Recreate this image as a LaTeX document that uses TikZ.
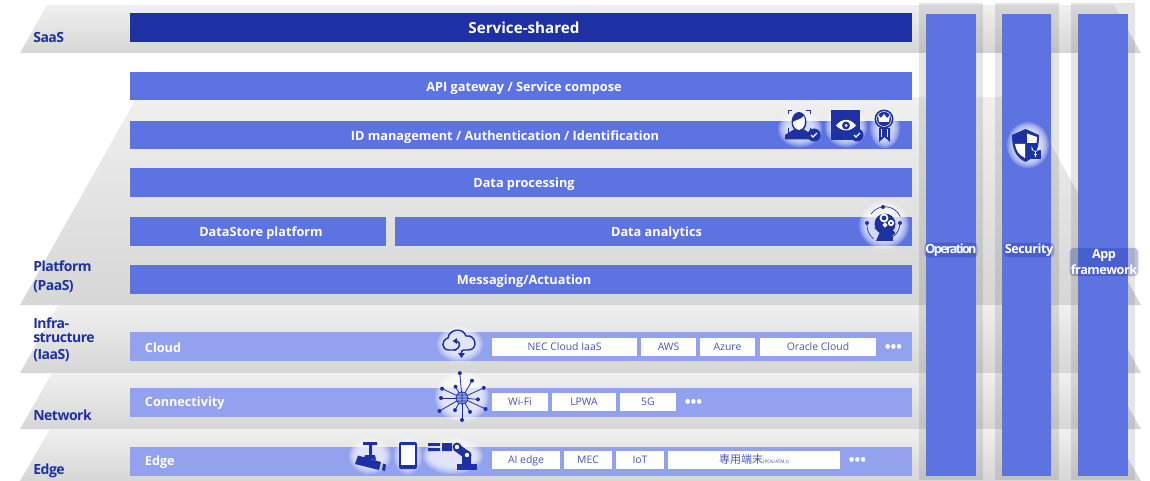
\documentclass[tikz,border=0pt]{standalone}
\usepackage{fontspec}
\setmainfont{Open Sans}
\newfontfamily\tightfont[LetterSpace=-3.5]{Open Sans}
\newfontfamily\tighterfont[LetterSpace=-13]{Open Sans}
\newfontfamily\cjkfont{Noto Sans CJK JP}
\usetikzlibrary{arrows,positioning}
\definecolor{barBlue}{HTML}{5E73E2}
\definecolor{rowBlue}{HTML}{93A2EE}
\definecolor{navy}{HTML}{1E31A4}
\definecolor{chipText}{HTML}{4557B8}
\newcommand{\layerBand}[3]{
	\shade[band] (#3,#1) -- (1161-#3,#1) -- (1141,#2) -- (20,#2) -- cycle;
}
\newcommand{\iconGlow}[4]{
	\foreach \grow in {0,1.5,3,4.5,6,7.5}
		\fill[glow] (#1,#2) ellipse [x radius=#3-\grow,y radius=#4-\grow];
}
\newcommand{\checkBadge}[2]{
	\fill[navy] (#1,#2) circle [radius=6.5];
	\draw[white,line width=1pt] (#1-3,#2) -- (#1-1,#2+2) -- (#1+3,#2-2);
}
\begin{document}
\begin{tikzpicture}
		[
			x=0.75pt,y=-0.75pt,
			font={\bfseries},
			band/.style={top color=black!6,bottom color=black!16},
			column/.style={fill=black,fill opacity=0.1},
			bluebar/.style={fill=barBlue,text=white,inner sep=0,outer sep=0,anchor=north west,minimum height=21.5pt,text height=7.6pt,text depth=0pt,font={\bfseries\fontsize{9.55}{12}\selectfont}},
			rowbar/.style={fill=rowBlue,inner sep=0,outer sep=0,anchor=north west,minimum width=586.5pt,minimum height=21.5pt},
			rowlabel/.style={text=white,inner sep=0,yshift=-0.75pt,font={\bfseries\fontsize{9.5}{12}\selectfont}},
			chip/.style={fill=white,text=chipText,inner sep=0,outer sep=0,minimum height=13.5pt,text height=5.8pt,text depth=0pt,node distance=3pt,font={\fontsize{7.8}{10}\selectfont}},
			dots/.style={text=white,inner sep=0,node distance=6.5pt,yshift=-1.1pt,font={\bfseries\fontsize{11.5}{12}\selectfont}},
			layername/.style={text=navy,anchor=west,inner sep=0,align=left,font={\tightfont\bfseries\fontsize{10.5}{10.5}\selectfont}},
			halo/.style={fill=navy,fill opacity=0.3,text opacity=1,text=white,rounded corners=3pt,inner sep=0.8pt,align=center,font={\tightfont\bfseries\fontsize{9.5}{12.5}\selectfont}},
			glow/.style={white,opacity=0.2},
			icon/.style={draw=navy,line width=1.1pt},
			link/.style={navy,line width=0.6pt},
		]
		\useasboundingbox (0,0) rectangle (1150,481);
		% layers behind everything
		\layerBand{5}{53}{47}
		\layerBand{97}{305}{137}
		\layerBand{305}{373}{58}
		\layerBand{373}{429}{52}
		\layerBand{429}{481}{50}
		\fill[column] (919,3) rectangle (983,480);
		\fill[column] (995,3) rectangle (1059,480);
		\fill[column] (1071,3) rectangle (1135,480);
		\node[layername] (saas) at (33,38) {SaaS};
		\node[layername] (platform) at (33,276.5) {Platform\\[3.75pt](PaaS)};
		\node[layername] (infra) at (33,339.5) {Infra-\\structure\\[2.25pt](IaaS)};
		\node[layername] (network) at (33,415) {Network};
		\node[layername] (edge) at (33,471) {Edge};
		% platform bars
		\node[bluebar,fill=navy,minimum width=586.5pt,text height=9.4pt,font={\bfseries\fontsize{11.4}{14}\selectfont}] (shared) at (130,13) {\hspace*{4.5pt}Service-shared};
		\node[bluebar,minimum width=586.5pt,minimum height=21pt] (gateway) at (130,72) {\hspace*{4.5pt}API gateway / Service compose};
		\node[bluebar,minimum width=586.5pt,minimum height=21pt] (idm) at (130,121) {ID management / Authentication / Identification\hspace*{24pt}};
		\node[bluebar,minimum width=586.5pt] (processing) at (130,168) {\hspace*{4.5pt}Data processing};
		\node[bluebar,minimum width=192pt] (datastore) at (130,217) {\hspace*{4.5pt}DataStore platform};
		\node[bluebar,minimum width=387.75pt] (analytics) at (395,217) {\hspace*{4.5pt}Data analytics};
		\node[bluebar,minimum width=586.5pt] (messaging) at (130,265) {\hspace*{4.5pt}Messaging/Actuation};
		% cloud row
		\node[rowbar] (cloudbar) at (130,332) {};
		\node[rowlabel,right=11pt of cloudbar.west] (cloudname) {Cloud};
		\node[chip,anchor=north west,minimum width=108.75pt] (nec) at (492,338) {NEC Cloud IaaS};
		\node[chip,right=of nec,minimum width=41.25pt] (aws) {AWS};
		\node[chip,right=of aws,minimum width=41.25pt] (azure) {Azure};
		\node[chip,right=3.75pt of azure,minimum width=87pt] (oracle) {Oracle Cloud};
		\node[dots,right=of oracle] (clouddots) {•••};
		% connectivity row
		\node[rowbar] (connbar) at (130,388) {};
		\node[rowlabel,right=11pt of connbar.west] (connname) {Connectivity};
		\node[chip,anchor=north west,minimum width=42pt] (wifi) at (492,393) {Wi-Fi};
		\node[chip,right=of wifi,minimum width=48pt] (lpwa) {LPWA};
		\node[chip,right=of lpwa,minimum width=42pt] (fiveg) {5G};
		\node[dots,right=of fiveg] (conndots) {•••};
		% edge row
		\node[rowbar] (edgebar) at (130,447) {};
		\node[rowlabel,right=11pt of edgebar.west] (edgename) {Edge};
		\node[chip,anchor=north west,minimum width=51pt] (aiedge) at (492,451) {AI edge};
		\node[chip,right=of aiedge,minimum width=36pt] (mec) {MEC};
		\node[chip,right=of mec,minimum width=36pt] (iot) {IoT};
		\node[chip,right=of iot,minimum width=129pt] (terminal) {{\cjkfont\fontsize{8.25}{10}\selectfont 専用端末}{\fontsize{3.5}{4}\selectfont (POS/ATM,t)}};
		\node[dots,right=of terminal] (edgedots) {•••};
		% columns
		\node[bluebar,minimum width=37.5pt,minimum height=346.5pt] (operationbar) at (926,14) {};
		\node[bluebar,minimum width=36.75pt,minimum height=346.5pt] (securitybar) at (1002,14) {};
		\node[bluebar,minimum width=37.5pt,minimum height=346.5pt] (appbar) at (1078,14) {};
		\node[halo,font={\tighterfont\bfseries\fontsize{9.5}{12.5}\selectfont}] (operation) at (951,250) {Operation};
		\node[halo] (security) at (1029,250) {Security};
		\node[halo] (app) at (1104,262) {App\\framework};
		% cloud icon
		\iconGlow{460}{344}{23}{18}
		\draw[icon,line cap=round] (456,350) -- (449,350) .. controls (441,350) and (441,340) .. (448,338) .. controls (449,329) and (463,327) .. (466,336) .. controls (476,334) and (479,350) .. (468,350) -- (464,350) .. controls (462,350) and (461,351) .. (461,354);
		\fill[navy] (458,353) -- (465,353) -- (461.5,358) -- cycle;
		\draw[icon,line cap=round] (454,350) .. controls (461,349) and (461,341) .. (456,341);
		\fill[navy] (457,338) -- (457,344) -- (452.5,341) -- cycle;
		% network icon
		\iconGlow{462}{397}{27}{25}
		\foreach \a/\r in {-155/22,-120/13,-95/25,-60/20,-25/24,5/16,25/26,60/16,90/22,120/14,150/26,180/21}{
			\draw[link] (462,398) -- ++(\a:\r);
			\fill[navy] (462,398) ++(\a:\r) circle [radius=2];
		}
		\fill[rowBlue] (462,398) circle [radius=6];
		\draw[link] (462,398) circle [radius=6] (456,398) -- (468,398) (462,392) -- (462,404) (457,395) -- (467,395) (457,401) -- (467,401);
		% camera, phone and robot icons
		\iconGlow{370}{456}{21}{18}
		\fill[navy] (363,442) rectangle (377,445) (369,445) rectangle (372,455) (365,455) -- (375,455) -- (376,460) -- (364,458) -- cycle;
		\fill[navy] (355,464) -- (358,455.5) -- (381,462) -- (379,470) -- cycle (383,463.5) -- (386,464.5) -- (385,471) -- (382,470) -- cycle;
		\iconGlow{408}{456}{14}{18}
		\fill[navy,rounded corners=1.5pt] (399,442) rectangle (417,469);
		\fill[white] (401,445) rectangle (415,465);
		\iconGlow{453}{456}{30}{18}
		\fill[navy] (428,443) rectangle (440,446) (428,448) rectangle (440,451) (442,443) rectangle (452,451);
		\draw[navy,line width=6pt] (456,447) -- (467,455);
		\fill[navy] (457,464) rectangle (477,470);
		\fill[navy,rounded corners=2pt] (462,452) rectangle (471,466);
		\fill[navy] (457,447) circle [radius=4.5] (467,455) circle [radius=4.5];
		\fill[white] (457,447) circle [radius=2.2] (467,455) circle [radius=2.2];
		% face, eye and medal icons
		\iconGlow{800}{129}{22}{18}
		\draw[navy,line width=0.7pt] (788,114) |- (792,110) (806,110) -| (810,114) (810,128) |- (806,132) (792,132) -| (788,128);
		\fill[navy] (785,139.5) -- (785,135) -- (793,130) -- (805,130) -- (812,135) -- (812,139.5) -- cycle;
		\fill[navy] (799,122) ellipse [x radius=7.5,y radius=10];
		\fill[white] (793,122) .. controls (795,120) and (800,120) .. (804,116) .. controls (806,122) and (805,129) .. (799,130) .. controls (795,129) and (793,126) .. (793,122) -- cycle;
		\checkBadge{814}{135}
		\iconGlow{846}{127}{21}{20}
		\fill[navy] (831,110) rectangle (860,140);
		\fill[white] (836,125.5) .. controls (842,118) and (850,118) .. (856,125.5) .. controls (850,132) and (842,132) .. (836,125.5) -- cycle;
		\fill[navy] (846,125.5) circle [radius=4];
		\fill[white] (846,125.5) circle [radius=1.5];
		\checkBadge{857}{135}
		\iconGlow{885}{128}{15}{20}
		\fill[navy] (884,119) circle [radius=9.5];
		\draw[white,line width=0.4pt] (884,119) circle [radius=7.5];
		\fill[white] (879,122) -- (878,115) -- (881,118) -- (884,114) -- (887,118) -- (890,115) -- (889,122) -- cycle;
		\fill[navy] (879,128) -- (879,142) -- (884.5,137) -- (890,142) -- (890,128) -- cycle;
		\draw[white,line width=0.4pt] (881.5,129) -- (881.5,137) (887.5,129) -- (887.5,137);
		% head with gears
		\iconGlow{884}{225}{25}{24}
		\draw[navy,line width=0.5pt] (871,214) arc [start angle=-145,end angle=-25,radius=17];
		\draw[navy,line width=0.5pt] (867,225) arc [start angle=180,end angle=130,radius=18];
		\draw[navy,line width=0.5pt] (900,223) arc [start angle=0,end angle=60,radius=17];
		\fill[navy] (883,207) circle [radius=2] (867,223) circle [radius=2] (900,223) circle [radius=2] (893,233) circle [radius=2];
		\fill[navy] (885,224) circle [radius=10.5];
		\fill[navy] (874,228) -- (880,232) -- (876,241) -- (893,241) -- (892,228) -- cycle;
		\draw[white,line width=1.3pt] (884,218) circle [radius=3.5] (891,223) circle [radius=2.2] (885,225) circle [radius=1.5];
		% shield with lock
		\iconGlow{1028}{145}{21}{23}
		\fill[navy] (1025.5,129) -- (1039,135) .. controls (1039,148) and (1036,157) .. (1025.5,162) .. controls (1015,157) and (1012,148) .. (1012,135) -- cycle;
		\fill[white] (1027,133.5) -- (1037,137) -- (1036.5,143) -- (1027,143) -- cycle;
		\fill[white] (1015,144) -- (1025,144) -- (1025,158) .. controls (1019,155) and (1016,151) .. (1015,144) -- cycle;
		\fill[navy] (1030,150) rectangle (1041,159);
		\draw[white,line width=0.5pt] (1032,150) -- (1032,148) arc [start angle=180,end angle=0,radius=3.5] -- (1039,150);
		\draw[white,line width=0.6pt] (1035.5,152) -- (1035.5,157) (1034,154) -- (1037,154);
	\end{tikzpicture}
\end{document}
